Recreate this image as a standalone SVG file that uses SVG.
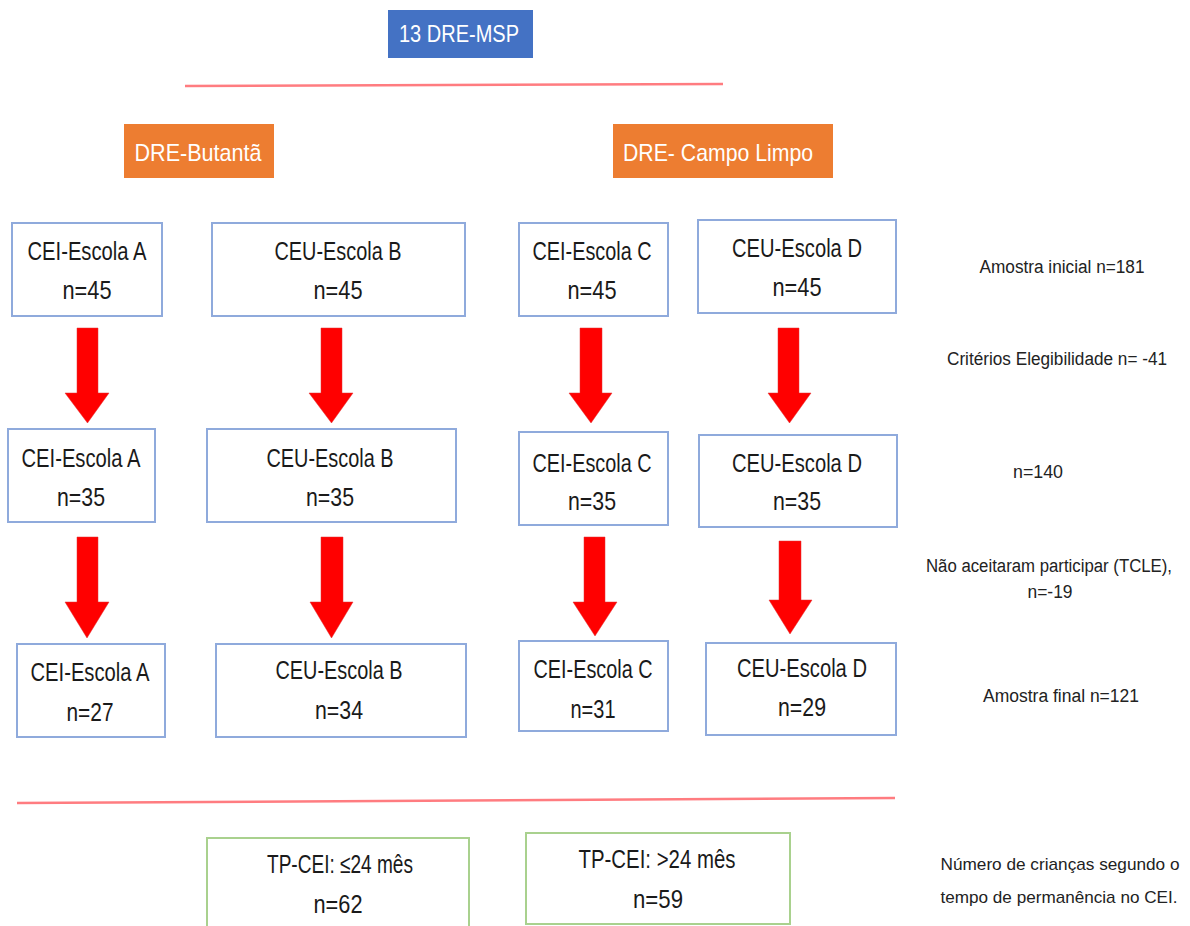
<svg xmlns="http://www.w3.org/2000/svg" width="1190" height="926" viewBox="0 0 1190 926">
<style>
text{font-family:"Liberation Sans",Arial,sans-serif;text-anchor:middle}
.bx{fill:#fff;stroke:#8FAADC;stroke-width:2}
.gb{fill:#fff;stroke:#A9D18E;stroke-width:2}
.t{font-size:26px;fill:#1a1a1a}
.w{font-size:24px;fill:#fff}
.s{font-size:18px;fill:#222}
.s2{font-size:17px;fill:#222}
.ar{fill:#FF0000;stroke:#E03030;stroke-width:0.5}
.rl{stroke:#FF7C80;stroke-width:2.5;fill:none}
</style>
<rect width="1190" height="926" fill="#fff"/>
<g id="connectors">
<line class="rl" x1="185" y1="86" x2="723" y2="84"/>
<line class="rl" x1="17" y1="803" x2="895" y2="798"/>
<polygon class="ar" points="77,328 98,328 98,393 109,393 87.5,423 65,393 77,393"/>
<polygon class="ar" points="321,328 342,328 342,393 353,393 331.5,423 309,393 321,393"/>
<polygon class="ar" points="580,328 602,328 602,393 612,393 591,423 569,393 580,393"/>
<polygon class="ar" points="778,328 799,328 799,393 811,393 789.5,423 768,393 778,393"/>
<polygon class="ar" points="77,537 98,537 98,602 109,602 87,638 65,602 77,602"/>
<polygon class="ar" points="321,537 343,537 343,602 353,602 331.5,638 310,602 321,602"/>
<polygon class="ar" points="584,537 605,537 605,602 617,602 595,636 573,602 584,602"/>
<polygon class="ar" points="779,541 801,541 801,600 812,600 790,634 769,600 779,600"/>
</g>
<g id="dre-msp">
<rect x="388" y="10" width="145" height="48" fill="#4472C4"/>
<text class="w" x="459" y="42" textLength="120" lengthAdjust="spacingAndGlyphs">13 DRE-MSP</text>
</g>
<g id="dre-butanta">
<rect x="124" y="124" width="150" height="54" fill="#ED7D31"/>
<text class="w" x="198" y="161" textLength="127" lengthAdjust="spacingAndGlyphs">DRE-Butantã</text>
</g>
<g id="dre-campo-limpo">
<rect x="613" y="124" width="220" height="54" fill="#ED7D31"/>
<text class="w" x="718" y="161" textLength="190" lengthAdjust="spacingAndGlyphs">DRE- Campo Limpo</text>
</g>
<g id="a1"><rect class="bx" x="12" y="223" width="150" height="93"/>
<text class="t" x="87" y="260" textLength="119" lengthAdjust="spacingAndGlyphs">CEI-Escola A</text>
<text class="t" x="87" y="299" textLength="49" lengthAdjust="spacingAndGlyphs">n=45</text></g>
<g id="b1"><rect class="bx" x="212" y="223" width="253" height="93"/>
<text class="t" x="338" y="260" textLength="127" lengthAdjust="spacingAndGlyphs">CEU-Escola B</text>
<text class="t" x="338" y="299" textLength="49" lengthAdjust="spacingAndGlyphs">n=45</text></g>
<g id="c1"><rect class="bx" x="519" y="223" width="149" height="93"/>
<text class="t" x="592" y="260" textLength="119" lengthAdjust="spacingAndGlyphs">CEI-Escola C</text>
<text class="t" x="592" y="299" textLength="49" lengthAdjust="spacingAndGlyphs">n=45</text></g>
<g id="d1"><rect class="bx" x="698" y="220" width="198" height="93"/>
<text class="t" x="797" y="257" textLength="130" lengthAdjust="spacingAndGlyphs">CEU-Escola D</text>
<text class="t" x="797" y="296" textLength="49" lengthAdjust="spacingAndGlyphs">n=45</text></g>
<g id="a2"><rect class="bx" x="8" y="429" width="147" height="93"/>
<text class="t" x="81" y="467" textLength="119" lengthAdjust="spacingAndGlyphs">CEI-Escola A</text>
<text class="t" x="81" y="506" textLength="48" lengthAdjust="spacingAndGlyphs">n=35</text></g>
<g id="b2"><rect class="bx" x="207" y="429" width="249" height="93"/>
<text class="t" x="330" y="467" textLength="127" lengthAdjust="spacingAndGlyphs">CEU-Escola B</text>
<text class="t" x="330" y="506" textLength="48" lengthAdjust="spacingAndGlyphs">n=35</text></g>
<g id="c2"><rect class="bx" x="519" y="432" width="149" height="93"/>
<text class="t" x="592" y="472" textLength="119" lengthAdjust="spacingAndGlyphs">CEI-Escola C</text>
<text class="t" x="592" y="510" textLength="48" lengthAdjust="spacingAndGlyphs">n=35</text></g>
<g id="d2"><rect class="bx" x="699" y="435" width="198" height="92"/>
<text class="t" x="797" y="472" textLength="130" lengthAdjust="spacingAndGlyphs">CEU-Escola D</text>
<text class="t" x="797" y="510" textLength="48" lengthAdjust="spacingAndGlyphs">n=35</text></g>
<g id="a3"><rect class="bx" x="17" y="644" width="148" height="93"/>
<text class="t" x="90" y="681" textLength="119" lengthAdjust="spacingAndGlyphs">CEI-Escola A</text>
<text class="t" x="90" y="721" textLength="47" lengthAdjust="spacingAndGlyphs">n=27</text></g>
<g id="b3"><rect class="bx" x="216" y="644" width="250" height="93"/>
<text class="t" x="339" y="679" textLength="127" lengthAdjust="spacingAndGlyphs">CEU-Escola B</text>
<text class="t" x="339" y="719" textLength="48" lengthAdjust="spacingAndGlyphs">n=34</text></g>
<g id="c3"><rect class="bx" x="519" y="641" width="149" height="90"/>
<text class="t" x="593" y="678" textLength="119" lengthAdjust="spacingAndGlyphs">CEI-Escola C</text>
<text class="t" x="593" y="718" textLength="45" lengthAdjust="spacingAndGlyphs">n=31</text></g>
<g id="d3"><rect class="bx" x="706" y="643" width="190" height="92"/>
<text class="t" x="802" y="677" textLength="130" lengthAdjust="spacingAndGlyphs">CEU-Escola D</text>
<text class="t" x="802" y="716" textLength="48" lengthAdjust="spacingAndGlyphs">n=29</text></g>
<g id="tp-le24"><path class="gb" d="M207,928 V838 H469 V928"/>
<text class="t" x="340" y="873" textLength="146" lengthAdjust="spacingAndGlyphs">TP-CEI: ≤24 mês</text>
<text class="t" x="338" y="913" textLength="49" lengthAdjust="spacingAndGlyphs">n=62</text></g>
<g id="tp-gt24"><rect class="gb" x="526" y="833" width="264" height="91"/>
<text class="t" x="657" y="868" textLength="157" lengthAdjust="spacingAndGlyphs">TP-CEI: &gt;24 mês</text>
<text class="t" x="658" y="908" textLength="50" lengthAdjust="spacingAndGlyphs">n=59</text></g>
<g id="labels">
<text class="s" x="1062" y="273" textLength="165" lengthAdjust="spacingAndGlyphs">Amostra inicial n=181</text>
<text class="s" x="1057" y="365" textLength="220" lengthAdjust="spacingAndGlyphs">Critérios Elegibilidade  n= -41</text>
<text class="s" x="1038" y="478" textLength="50" lengthAdjust="spacingAndGlyphs">n=140</text>
<text class="s" x="1049" y="572" textLength="246" lengthAdjust="spacingAndGlyphs">Não aceitaram participar (TCLE),</text>
<text class="s" x="1050" y="598" textLength="45" lengthAdjust="spacingAndGlyphs">n=-19</text>
<text class="s" x="1061" y="702" textLength="156" lengthAdjust="spacingAndGlyphs">Amostra final n=121</text>
<text class="s2" x="1060" y="870" textLength="239" lengthAdjust="spacingAndGlyphs">Número de crianças segundo o</text>
<text class="s2" x="1059" y="903" textLength="237" lengthAdjust="spacingAndGlyphs">tempo de permanência no CEI.</text>
</g>
</svg>
